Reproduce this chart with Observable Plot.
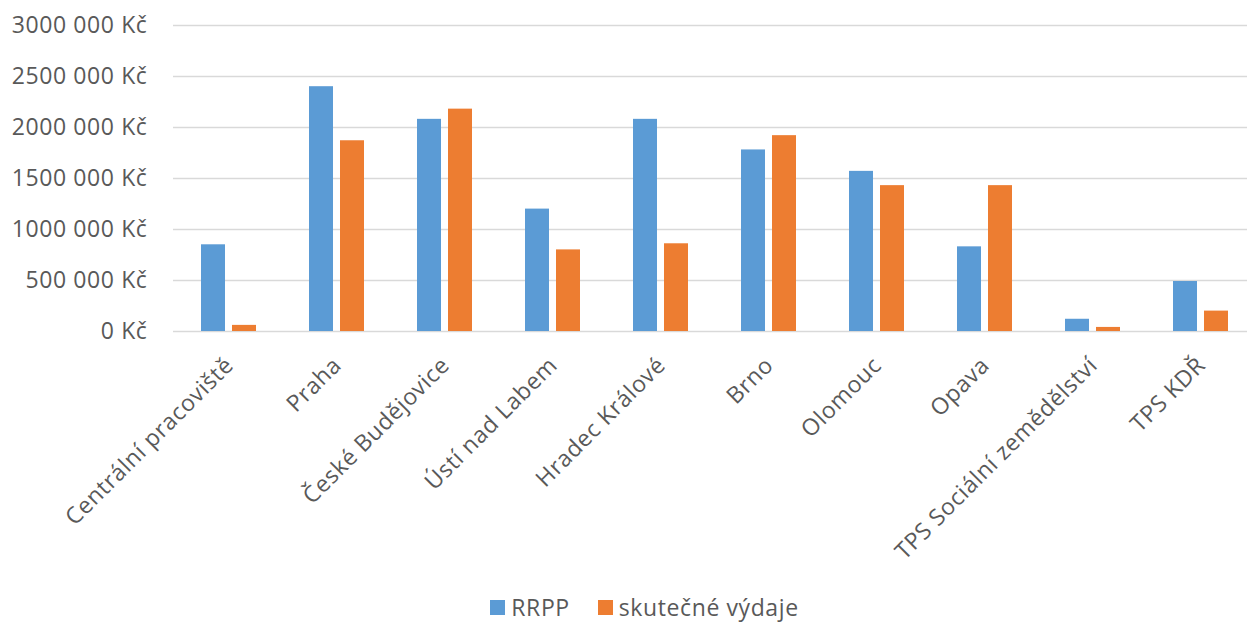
<!DOCTYPE html>
<html><head><meta charset="utf-8">
<script src="https://cdn.jsdelivr.net/npm/d3@7"></script>
<script src="https://cdn.jsdelivr.net/npm/@observablehq/plot@0.6"></script>
<style>
body{margin:0;background:#fff;font-family:"Open Sans",sans-serif;}
#legend{display:flex;justify-content:center;align-items:center;font-size:23px;letter-spacing:0.6px;color:#595959;padding-left:42px;height:30px;}
.item{display:flex;align-items:center;margin:0 14px;}
.sw{width:15px;height:15px;margin-right:6px;display:inline-block;}
svg text{letter-spacing:0.6px;}
</style>
</head><body>
<div id="chart"></div>
<div id="legend"></div>
<script>
const categories = ["Centrální pracoviště","Praha","České Budějovice","Ústí nad Labem","Hradec Králové","Brno","Olomouc","Opava","TPS Sociální zemědělství","TPS KDŘ"];
const series = ["RRPP","skutečné výdaje"];
const rrpp = [850000, 2400000, 2080000, 1200000, 2080000, 1780000, 1570000, 830000, 120000, 490000];
const vydaje = [60000, 1870000, 2180000, 800000, 860000, 1920000, 1430000, 1430000, 40000, 200000];
const yTicks = [0, 500000, 1000000, 1500000, 2000000, 2500000, 3000000];
const yTickLabels = ["0 Kč","500 000 Kč","1000 000 Kč","1500 000 Kč","2000 000 Kč","2500 000 Kč","3000 000 Kč"];
const colors = ["#5B9BD5","#ED7D31"];

const data = categories.flatMap((c, i) => [
  {category: c, series: series[0], value: rrpp[i]},
  {category: c, series: series[1], value: vydaje[i]}
]);

const chart = Plot.plot({
  width: 1247, height: 592,
  marginTop: 25, marginBottom: 261, marginLeft: 173, marginRight: 0,
  style: {fontFamily: "Open Sans", fontSize: "23px", color: "#595959", background: "#fff"},
  x: {domain: categories, range: [173, 1256], padding: 0, label: null},
  y: {domain: [0, 3000000], label: null},
  color: {domain: series, range: colors},
  marks: [
    Plot.ruleY(yTicks, {stroke: "#d9d9d9", strokeWidth: 1.5}),
    Plot.barY(data.filter(d => d.series === series[0]), {x: "category", y: "value", fill: "series", insetLeft: 26, insetRight: 58}),
    Plot.barY(data.filter(d => d.series === series[1]), {x: "category", y: "value", fill: "series", insetLeft: 57, insetRight: 27}),
    Plot.axisY(yTicks, {tickFormat: d => yTickLabels[yTicks.indexOf(d)], tickSize: 0, tickPadding: 26, fontSize: 23, fill: "#595959", label: null}),
    Plot.axisX({tickRotate: -45, tickSize: 0, tickPadding: 30, dx: 0, fontSize: 23, fill: "#595959", label: null})
  ]
});
document.getElementById("chart").appendChild(chart);

const legend = document.getElementById("legend");
series.forEach((s, i) => {
  const it = document.createElement("div");
  it.className = "item";
  it.innerHTML = `<span class="sw" style="background:${colors[i]}"></span><span>${s}</span>`;
  legend.appendChild(it);
});
</script>
</body></html>
